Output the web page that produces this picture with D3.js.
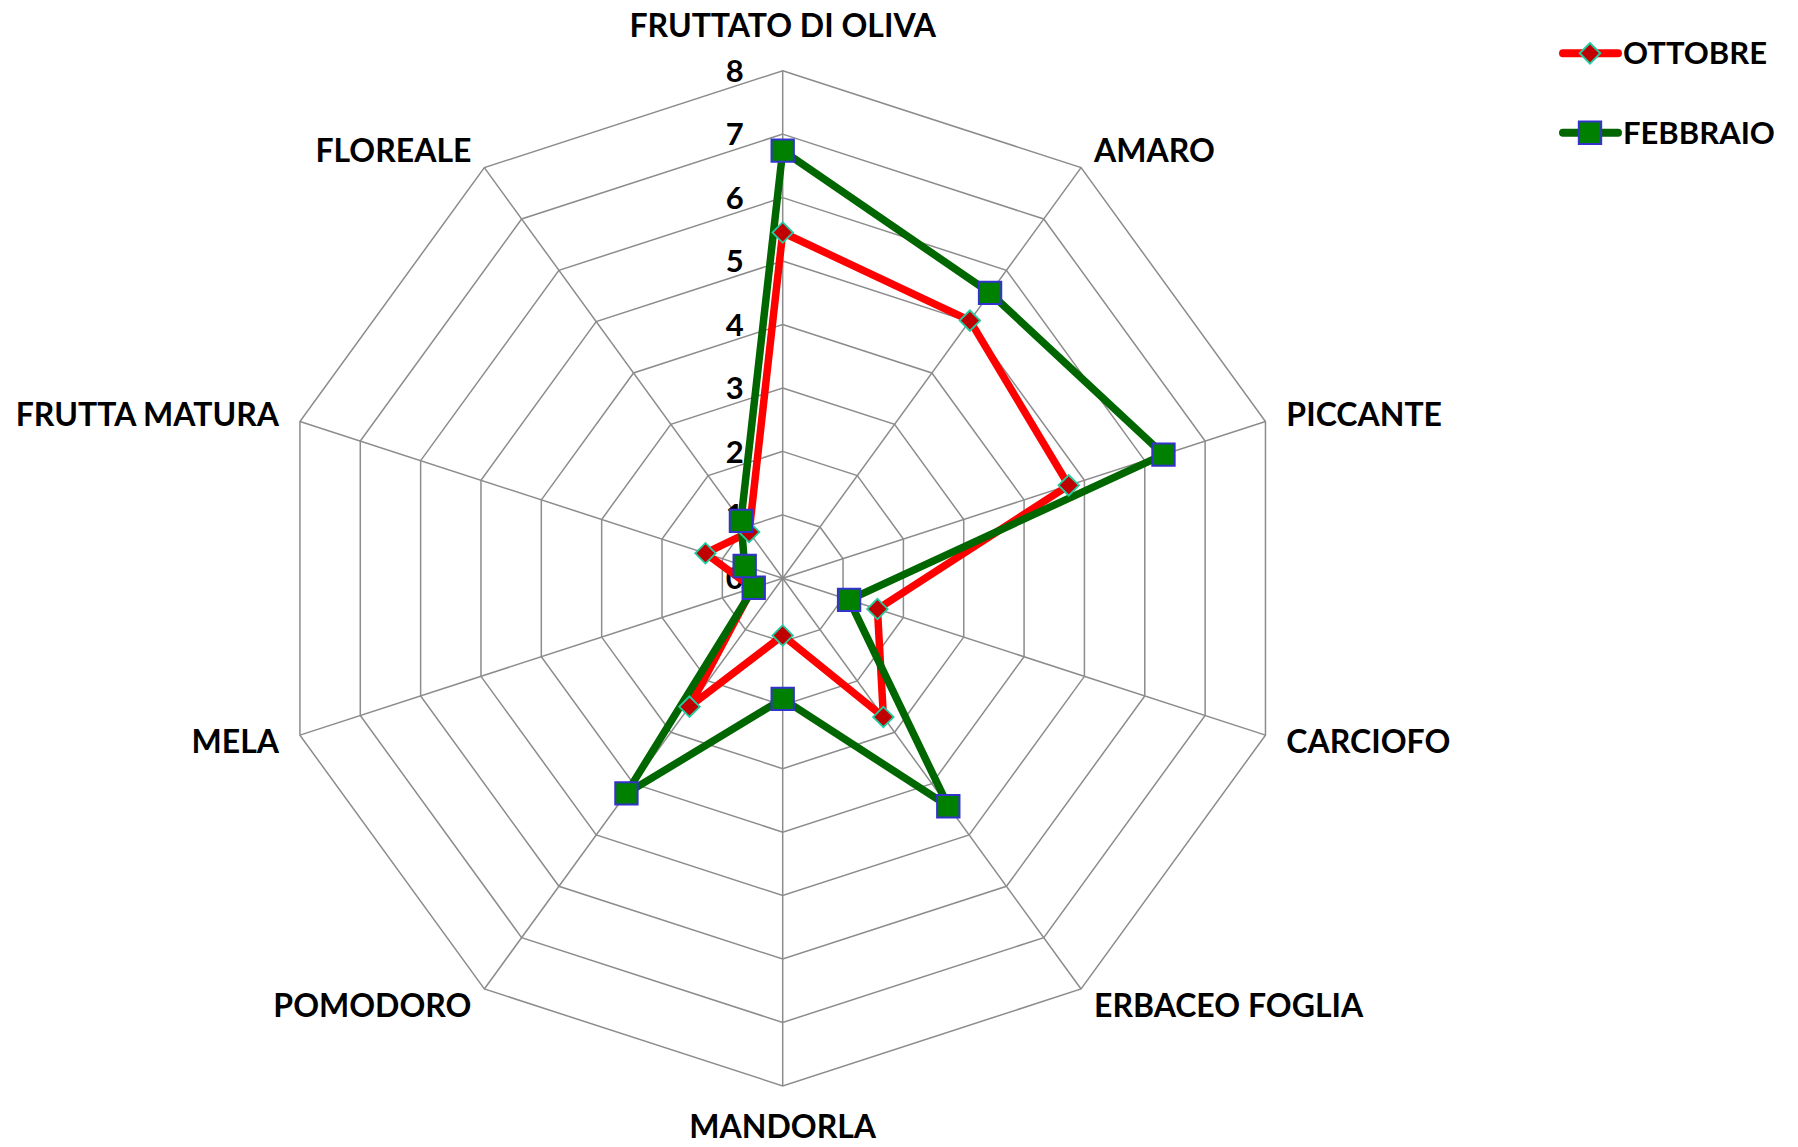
<!DOCTYPE html>
<html>
<head>
<meta charset="utf-8">
<script src="https://cdn.jsdelivr.net/npm/d3@7"></script>
<style>
  html, body { margin: 0; padding: 0; background: #ffffff; }
  svg { display: block; }
  text { font-family: Lato, "Open Sans", sans-serif; font-weight: 700; fill: #000; }
</style>
</head>
<body>
<svg id="chart" width="1798" height="1147"></svg>
<script>
const categories = ["FRUTTATO DI OLIVA", "AMARO", "PICCANTE", "CARCIOFO", "ERBACEO FOGLIA",
                    "MANDORLA", "POMODORO", "MELA", "FRUTTA MATURA", "FLOREALE"];
const ottobre  = [5.45, 5.02, 4.74, 1.57, 2.70, 0.90, 2.50, 0.50, 1.28, 0.90];
const febbraio = [6.74, 5.56, 6.31, 1.10, 4.44, 1.90, 4.19, 0.48, 0.63, 1.12];
const seriesNames = ["OTTOBRE", "FEBBRAIO"];
const tickValues = [0, 1, 2, 3, 4, 5, 6, 7, 8];

const W = 1798, H = 1147;
const cx = 782.7, cy = 578.3, R = 507.6;
const svg = d3.select("#chart");
const r = d3.scaleLinear().domain([0, 8]).range([0, R]);
const angle = d3.scaleLinear().domain([0, categories.length]).range([0, 2 * Math.PI]);
const gridColor = "#8c8c8c";

const g = svg.append("g").attr("transform", `translate(${cx},${cy})`);
const px = (i, v) => r(v) * Math.sin(angle(i));
const py = (i, v) => -r(v) * Math.cos(angle(i));

// grid polygons
const gridLine = d3.lineRadial().angle((d, i) => angle(i)).radius(d => r(d)).curve(d3.curveLinearClosed);
tickValues.filter(t => t > 0).forEach(t => {
  g.append("path")
    .attr("d", gridLine(categories.map(() => t)))
    .attr("fill", "none").attr("stroke", gridColor).attr("stroke-width", 1.5);
});
// spokes
categories.forEach((c, i) => {
  g.append("line")
    .attr("x1", 0).attr("y1", 0)
    .attr("x2", px(i, 8)).attr("y2", py(i, 8))
    .attr("stroke", gridColor).attr("stroke-width", 1.5);
});

// tick labels
g.selectAll("text.tick").data(tickValues).enter().append("text")
  .attr("class", "tick")
  .attr("x", -39).attr("y", d => -r(d))
  .attr("dy", "0.36em")
  .attr("text-anchor", "end")
  .style("font-size", "31px")
  .text(d => d);

// category labels
categories.forEach((c, i) => {
  const a = angle(i);
  const ux = Math.sin(a), uy = -Math.cos(a);
  const vx = px(i, 8), vy = py(i, 8);
  let anchor = "middle", x = vx, y;
  if (ux > 0.1) { anchor = "start"; x = vx + 22 * ux; }
  else if (ux < -0.1) { anchor = "end"; x = vx + 22 * ux; }
  y = vy + uy * (Math.abs(ux) < 0.1 ? (uy < 0 ? 45 : 41) : 21);
  g.append("text")
    .attr("x", x).attr("y", y).attr("dy", "0.36em")
    .attr("text-anchor", anchor)
    .style("font-size", "32px")
    .text(c);
});

// series
const seriesLine = d3.lineRadial().angle((d, i) => angle(i)).radius(d => r(d)).curve(d3.curveLinearClosed);
g.append("path").attr("d", seriesLine(ottobre))
  .attr("fill", "none").attr("stroke", "#ff0000").attr("stroke-width", 7.5).attr("stroke-linejoin", "round");
g.append("path").attr("d", seriesLine(febbraio))
  .attr("fill", "none").attr("stroke", "#006600").attr("stroke-width", 7.5).attr("stroke-linejoin", "round");

const diamond = d3.symbol().type(d3.symbolSquare).size(210)();
const square = d3.symbol().type(d3.symbolSquare).size(500)();

g.selectAll("path.ott").data(ottobre).enter().append("path")
  .attr("class", "ott")
  .attr("d", diamond)
  .attr("transform", (d, i) => `translate(${px(i, d)},${py(i, d)}) rotate(45)`)
  .attr("fill", "#c00000").attr("stroke", "#22cca0").attr("stroke-width", 1.8);
g.selectAll("path.feb").data(febbraio).enter().append("path")
  .attr("class", "feb")
  .attr("d", square)
  .attr("transform", (d, i) => `translate(${px(i, d)},${py(i, d)})`)
  .attr("fill", "#008000").attr("stroke", "#3333cc").attr("stroke-width", 2);

// legend
const legend = svg.append("g");
const legItems = [
  { name: seriesNames[0], color: "#ff0000", sym: diamond, rot: 45, fill: "#c00000", stroke: "#22cca0", y: 53.3 },
  { name: seriesNames[1], color: "#006600", sym: square, rot: 0, fill: "#008000", stroke: "#3333cc", y: 132.7 }
];
legItems.forEach(it => {
  legend.append("line")
    .attr("x1", 1563).attr("x2", 1618).attr("y1", it.y).attr("y2", it.y)
    .attr("stroke", it.color).attr("stroke-width", 8).attr("stroke-linecap", "round");
  legend.append("path").attr("d", it.sym)
    .attr("transform", `translate(1590,${it.y}) rotate(${it.rot})`)
    .attr("fill", it.fill).attr("stroke", it.stroke).attr("stroke-width", 2);
  legend.append("text")
    .attr("x", 1623).attr("y", it.y).attr("dy", "0.36em")
    .style("font-size", "31px")
    .text(it.name);
});
</script>
</body>
</html>
